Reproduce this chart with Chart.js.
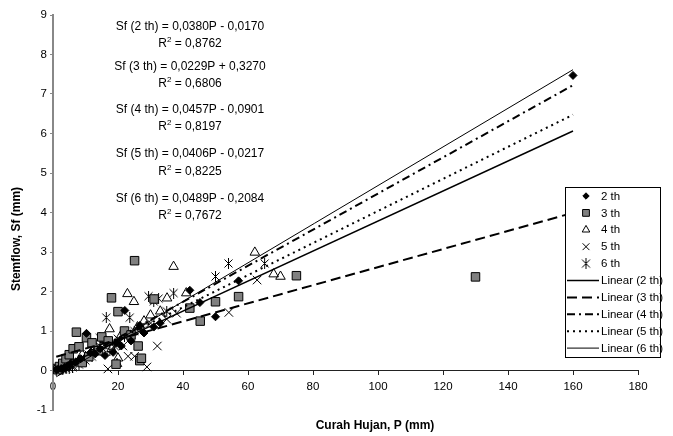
<!DOCTYPE html>
<html>
<head>
<meta charset="utf-8">
<script src="https://cdn.jsdelivr.net/npm/chart.js@4.4.0/dist/chart.umd.min.js"></script>
<style>
  body { margin: 0; background: #fff; }
  #wrap { width: 673px; height: 436px; }
</style>
</head>
<body>
<div id="wrap"><canvas id="chart" width="673" height="436"></canvas></div>
<script>
// rainfall P (mm) and stemflow Sf (mm) per stand age
const p2  = [1, 1.5, 2.5, 3.5, 4.5, 5.5, 7, 8.5, 10.3, 11.5, 13, 14.5, 16, 18.5, 19.5, 21, 22.1, 24, 26.7, 28, 31, 33, 42.1, 45.2, 50, 57.1, 160];
const sf2 = [0.02, 0.03, 0.05, 0.08, 0.12, 0.18, 0.22, 0.3, 0.94, 0.45, 0.42, 0.55, 0.38, 0.46, 0.7, 0.62, 1.52, 0.75, 1.14, 0.95, 1.1, 1.2, 2.03, 1.72, 1.36, 2.27, 7.47];

const p3  = [0.8, 1.5, 2, 3, 4, 5, 6.2, 7.2, 8, 9, 10.3, 11, 12, 14, 15, 17, 18, 19.4, 20, 22, 24, 25.1, 26.2, 26.7, 27.2, 31.1, 42.1, 45.3, 50, 57.1, 74.9, 130];
const sf3 = [0.05, 0.02, 0.1, 0.18, 0.3, 0.4, 0.55, 0.97, 0.6, 0.2, 0.83, 0.35, 0.7, 0.5, 0.85, 0.75, 1.84, 0.16, 1.49, 1.0, 0.9, 2.78, 0.62, 0.25, 0.31, 1.81, 1.58, 1.25, 1.74, 1.87, 2.4, 2.37];

const p4  = [1, 2, 3, 4, 5, 6, 8, 9, 10, 12, 13, 15, 16, 17.4, 18, 19.7, 20, 21, 22.9, 24.9, 26, 28, 30, 33, 35.1, 37.1, 41, 62.1, 67.9, 70];
const sf4 = [0.02, 0.04, 0.06, 0.1, 0.14, 0.18, 0.25, 0.4, 0.32, 0.48, 0.6, 0.62, 0.78, 1.05, 0.55, 0.17, 0.31, 0.9, 1.94, 1.74, 1.1, 1.25, 1.4, 1.5, 1.83, 2.63, 1.96, 2.99, 2.44, 2.38];

const p5  = [1, 2, 3, 4.5, 6, 7, 9, 11, 12.5, 14, 15, 16.9, 18, 20, 21.5, 23.1, 24, 25.1, 27, 28.9, 30, 32.1, 35, 38, 54.1, 62.8];
const sf5 = [0.01, 0.03, 0.05, 0.1, 0.12, 0.2, 0.28, 0.4, 0.5, 0.45, 0.58, 0.04, 0.7, 0.8, 0.62, 0.36, 0.9, 0.36, 1.0, 0.09, 1.2, 0.62, 1.3, 1.45, 1.47, 2.29];

const p6  = [1, 2, 3, 4, 5, 6, 8, 10, 12, 14.4, 16.4, 17.5, 19, 20.5, 22, 23.6, 25, 27, 29.4, 31, 32.5, 35, 37.1, 50, 54, 65.1];
const sf6 = [0, 0.02, 0.03, 0.05, 0.06, 0.08, 0.15, 0.25, 0.35, 0.83, 1.34, 0.5, 0.62, 0.72, 0.85, 1.34, 1.0, 1.1, 1.88, 1.75, 1.82, 1.5, 1.96, 2.38, 2.71, 2.71];

const ages = ["2 th", "3 th", "4 th", "5 th", "6 th"];
const slopes = [0.0380, 0.0229, 0.0457, 0.0406, 0.0489];
const intercepts = [-0.0170, 0.3270, -0.0901, -0.0217, -0.2084];
const rSquared = ["0,8762", "0,6806", "0,8197", "0,8225", "0,7672"];
const equations = [
  "Sf (2 th) = 0,0380P - 0,0170",
  "Sf (3 th) = 0,0229P + 0,3270",
  "Sf (4 th) = 0,0457P - 0,0901",
  "Sf (5 th) = 0,0406P - 0,0217",
  "Sf (6 th) = 0,0489P - 0,2084"
];
const trendFrom = 1, trendTo = 160;

const FONT = "'Liberation Sans', Arial, sans-serif";

// asterisk marker for 6 th
const star = document.createElement("canvas");
star.width = 11; star.height = 11;
(function () {
  const c = star.getContext("2d");
  c.strokeStyle = "#000"; c.lineWidth = 1;
  c.beginPath();
  c.moveTo(1.5, 1.5); c.lineTo(9.5, 9.5);
  c.moveTo(9.5, 1.5); c.lineTo(1.5, 9.5);
  c.moveTo(5.5, 0); c.lineTo(5.5, 11);
  c.stroke();
})();

const pts = (xs, ys) => xs.map((x, i) => ({ x: x, y: ys[i] }));

const markers = [
  { data: pts(p2, sf2), pointStyle: "rectRot", pointRadius: 4, backgroundColor: "#000", borderColor: "#000" },
  { data: pts(p3, sf3), pointStyle: "rect", pointRadius: 6, backgroundColor: "#808080", borderColor: "#000" },
  { data: pts(p4, sf4), pointStyle: "triangle", pointRadius: 5.5, backgroundColor: "rgba(0,0,0,0)", borderColor: "#000" },
  { data: pts(p5, sf5), pointStyle: "crossRot", pointRadius: 6, backgroundColor: "#000", borderColor: "#000" },
  { data: pts(p6, sf6), pointStyle: star, pointRadius: 5, backgroundColor: "#000", borderColor: "#000" }
];

const trendStyles = [
  { borderWidth: 1.5, borderDash: [] },
  { borderWidth: 2, borderDash: [10, 5] },
  { borderWidth: 2, borderDash: [8, 4, 2, 4] },
  { borderWidth: 2, borderDash: [2, 4] },
  { borderWidth: 1, borderDash: [] }
];

const datasets = [];
markers.forEach((m, i) => {
  datasets.push(Object.assign({
    type: "scatter",
    label: ages[i],
    borderWidth: 1,
    order: 1
  }, m));
});
ages.forEach((a, i) => {
  datasets.push({
    type: "line",
    label: "Linear (" + a + ")",
    data: [
      { x: trendFrom, y: slopes[i] * trendFrom + intercepts[i] },
      { x: trendTo, y: slopes[i] * trendTo + intercepts[i] }
    ],
    borderColor: "#000",
    borderWidth: trendStyles[i].borderWidth,
    borderDash: trendStyles[i].borderDash,
    pointRadius: 0,
    fill: false,
    order: 0
  });
});

const annotations = {
  id: "annotations",
  afterDraw(chart) {
    const ctx = chart.ctx;
    ctx.save();
    ctx.fillStyle = "#000";
    ctx.textBaseline = "middle";
    const cx = 190;
    const eqY = [26.5, 66.5, 109.5, 154, 198.5];
    equations.forEach((eq, i) => {
      ctx.font = "12px " + FONT;
      ctx.textAlign = "center";
      ctx.fillText(eq, cx, eqY[i]);
      // R² line with superscript
      const y = eqY[i] + 17.5;
      const rest = " = " + rSquared[i];
      ctx.font = "12px " + FONT;
      const wR = ctx.measureText("R").width;
      const wRest = ctx.measureText(rest).width;
      ctx.font = "8px " + FONT;
      const w2 = ctx.measureText("2").width;
      let x = cx - (wR + w2 + wRest) / 2;
      ctx.textAlign = "left";
      ctx.font = "12px " + FONT;
      ctx.fillText("R", x, y);
      ctx.font = "8px " + FONT;
      ctx.fillText("2", x + wR, y - 4);
      ctx.font = "12px " + FONT;
      ctx.fillText(rest, x + wR + w2, y);
    });

    // axis titles
    ctx.font = "bold 12px " + FONT;
    ctx.textAlign = "center";
    ctx.fillText("Curah Hujan, P (mm)", 375, 426);
    ctx.save();
    ctx.translate(17, 239);
    ctx.rotate(-Math.PI / 2);
    ctx.fillText("Stemflow, Sf (mm)", 0, 0);
    ctx.restore();

    // legend box
    const lx = 565.5, ly = 187.5, lw = 95, lh = 170;
    ctx.fillStyle = "#fff";
    ctx.fillRect(lx, ly, lw, lh);
    ctx.strokeStyle = "#000";
    ctx.lineWidth = 1;
    ctx.strokeRect(lx, ly, lw, lh);
    ctx.font = "11.5px " + FONT;
    chart.data.datasets.forEach((ds, i) => {
      const y = 196 + i * 16.9;
      ctx.strokeStyle = "#000";
      if (ds.type === "line") {
        ctx.lineWidth = ds.borderWidth;
        ctx.setLineDash(ds.borderDash);
        ctx.beginPath();
        ctx.moveTo(567, y);
        ctx.lineTo(599, y);
        ctx.stroke();
        ctx.setLineDash([]);
      } else {
        ctx.fillStyle = ds.backgroundColor;
        ctx.lineWidth = 1;
        Chart.helpers.drawPoint(ctx, {
          pointStyle: ds.pointStyle,
          radius: ds.pointRadius * 0.8,
          borderWidth: 1,
          rotation: 0
        }, 586, y);
      }
      ctx.fillStyle = "#000";
      ctx.textAlign = "left";
      ctx.fillText(ds.label, 601, y + 0.5);
    });
    ctx.restore();
  }
};

new Chart(document.getElementById("chart"), {
  type: "scatter",
  data: { datasets: datasets },
  options: {
    responsive: false,
    animation: false,
    layout: { padding: { left: 0, top: 15, right: 35, bottom: 26 } },
    plugins: {
      legend: { display: false },
      tooltip: { enabled: false }
    },
    scales: {
      x: {
        type: "linear",
        min: 0,
        max: 180,
        position: { y: 0 },
        afterFit: (s) => { s.height = 0; },
        ticks: { stepSize: 20, color: "#000", padding: 5, font: { size: 11.5, family: FONT } },
        grid: { drawOnChartArea: false, drawTicks: true, tickLength: 4, color: "#222" },
        border: { color: "#222", width: 1 }
      },
      y: {
        type: "linear",
        min: -1,
        max: 9,
        afterFit: (s) => { s.width = 53; },
        ticks: { stepSize: 1, color: "#000", padding: 3, font: { size: 11.5, family: FONT } },
        grid: { drawOnChartArea: false, drawTicks: true, tickLength: 3, color: "#888" },
        border: { color: "#888", width: 2 }
      }
    }
  },
  plugins: [annotations]
});
</script>
</body>
</html>
